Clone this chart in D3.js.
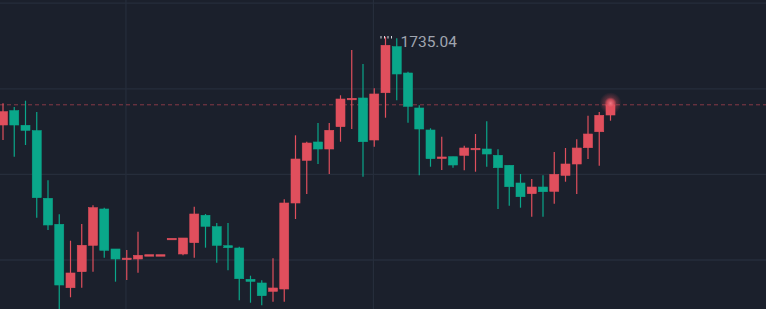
<!DOCTYPE html>
<html>
<head>
<meta charset="utf-8">
<script src="https://cdn.jsdelivr.net/npm/d3@7"></script>
<style>
	html, body { margin: 0; padding: 0; background: #1b202c; overflow: hidden; }
	#chart { width: 766px; height: 309px; }
</style>
</head>
<body>
<div id="chart"></div>
<script>
// trading days (categories)
let dates = [
	"2023-10-17","2023-10-18","2023-10-19","2023-10-20","2023-10-23","2023-10-24","2023-10-25","2023-10-26","2023-10-27","2023-10-30","2023-10-31",
	"2023-11-01","2023-11-02","2023-11-03","2023-11-06","2023-11-07","2023-11-08","2023-11-09","2023-11-10","2023-11-13","2023-11-14","2023-11-15",
	"2023-11-16","2023-11-17","2023-11-20","2023-11-21","2023-11-22","2023-11-23","2023-11-24","2023-11-27","2023-11-28","2023-11-29","2023-11-30",
	"2023-12-01","2023-12-04","2023-12-05","2023-12-06","2023-12-07","2023-12-08","2023-12-11","2023-12-12","2023-12-13","2023-12-14","2023-12-15",
	"2023-12-18","2023-12-19","2023-12-20","2023-12-21","2023-12-22","2023-12-25","2023-12-26","2023-12-27","2023-12-28","2023-12-29","2024-01-01"
];

let open = [
	1709.28,1713.46,1709.19,1707.62,1687.87,1680.28,1661.76,1666.44,1674.15,1684.75,1673.07,
	1670.30,1670.15,1671.40,1671.40,1676.19,1671.61,1674.91,1682.91,1679.58,1674.03,1673.36,
	1664.22,1663.14,1660.71,1661.38,1686.50,1698.97,1704.32,1702.27,1708.79,1717.00,1717.17,
	1704.90,1718.71,1732.15,1724.47,1714.25,1707.82,1699.90,1700.02,1700.43,1702.40,1702.27,
	1700.43,1697.51,1692.34,1689.22,1691.17,1689.92,1694.59,1697.89,1702.65,1707.32,1712.20
];
let high = [
	1715.62,1714.54,1716.38,1713.08,1693.13,1683.20,1675.49,1680.37,1685.83,1685.13,1673.07,
	1672.77,1678.12,1671.40,1671.40,1676.19,1676.28,1685.42,1683.29,1680.66,1680.66,1673.74,
	1665.27,1663.93,1670.35,1687.58,1706.27,1704.40,1709.87,1709.87,1717.96,1731.19,1727.10,
	1720.00,1735.04,1734.60,1724.85,1715.04,1708.32,1705.86,1700.02,1703.24,1706.65,1710.36,
	1702.18,1697.51,1694.97,1693.51,1694.59,1701.40,1702.56,1705.11,1712.00,1713.08,1715.18
];
let low = [
	1704.90,1700.02,1703.44,1682.21,1678.62,1654.67,1658.96,1661.76,1666.44,1670.53,1663.52,
	1664.01,1666.14,1671.40,1671.40,1676.19,1671.23,1670.53,1673.45,1669.07,1666.85,1658.08,
	1657.38,1656.62,1657.68,1657.68,1681.83,1689.13,1697.89,1694.97,1704.40,1708.11,1694.18,
	1702.94,1711.41,1716.50,1709.95,1694.59,1697.10,1696.14,1696.81,1696.05,1695.64,1697.10,
	1684.75,1685.71,1685.13,1682.50,1682.50,1686.30,1692.72,1689.13,1699.35,1697.39,1710.54
];
let close = [
	1713.17,1709.28,1707.73,1688.05,1680.08,1662.55,1666.06,1674.15,1685.13,1672.69,1670.15,
	1670.40,1671.23,1671.40,1671.40,1676.19,1676.28,1683.29,1679.70,1674.15,1673.45,1664.39,
	1663.63,1659.43,1661.68,1686.50,1699.35,1704.02,1702.27,1707.73,1716.87,1717.08,1704.40,
	1718.34,1732.56,1724.18,1714.74,1708.11,1699.44,1699.94,1697.60,1702.56,1702.48,1700.81,
	1696.81,1691.26,1688.34,1691.17,1689.80,1694.88,1697.89,1702.56,1706.65,1712.11,1715.18
];

let priceTicks = [1670, 1695, 1720, 1745];
let dateTicks = ["2023-11-01", "2023-12-01"];

var w = 766,
	h = 309;

var upColor = "#e04f5d",
	downColor = "#0aa78a",
	gridColor = "#262d3b";

var svg = d3.select("#chart")
			.append("svg")
			.attr("width", w)
			.attr("height", h)
			.style("display", "block");

svg.append("rect")
   .attr("width", w)
   .attr("height", h)
   .attr("fill", "#1b202c");

let data = dates.map((d, i) => ({date: d, o: open[i], h: high[i], l: low[i], c: close[i]}));

let xScale = d3.scaleBand()
			   .domain(dates)
			   .range([-2.625, -2.625 + dates.length * 11.25])
			   .paddingInner(0.2)
			   .paddingOuter(0.1);

let yScale = d3.scaleLinear()
			   .domain([1670, 1745])
			   .range([259.5, 2.7]);

let cx = (d) => xScale(d) + xScale.bandwidth() / 2;

// grid
let yGrid = d3.axisRight(yScale)
			  .tickValues(priceTicks)
			  .tickSize(w)
			  .tickFormat("");

svg.append("g")
   .attr("class", "grid")
   .call(yGrid)
   .call(g => g.select(".domain").remove())
   .call(g => g.selectAll("line").attr("stroke", gridColor).attr("stroke-width", 1.3));

let xGrid = d3.axisBottom(xScale)
			  .tickValues(dateTicks)
			  .tickSize(h)
			  .tickFormat("");

svg.append("g")
   .attr("class", "grid")
   .attr("transform", "translate(-0.8,0)")
   .call(xGrid)
   .call(g => g.select(".domain").remove())
   .call(g => g.selectAll("line").attr("stroke", gridColor).attr("stroke-width", 1.2));

// last price line
let last = data[data.length - 1];

svg.append("line")
   .attr("x1", 0)
   .attr("x2", w)
   .attr("y1", yScale(last.c))
   .attr("y2", yScale(last.c))
   .attr("stroke", upColor)
   .attr("stroke-opacity", 0.55)
   .attr("stroke-dasharray", "4,3");

// candles
let candles = svg.append("g")
				 .selectAll("g")
				 .data(data)
				 .enter()
				 .append("g")
				 .attr("fill", (d) => d.c >= d.o ? upColor : downColor)
				 .attr("stroke", (d) => d.c >= d.o ? upColor : downColor);

candles.append("line")
	   .attr("x1", (d) => cx(d.date))
	   .attr("x2", (d) => cx(d.date))
	   .attr("y1", (d) => yScale(d.h))
	   .attr("y2", (d) => yScale(d.l))
	   .attr("stroke-width", 1.2);

candles.append("rect")
	   .attr("x", (d) => xScale(d.date))
	   .attr("width", xScale.bandwidth())
	   .attr("y", (d) => yScale(Math.max(d.o, d.c)))
	   .attr("height", (d) => Math.max(1.5, Math.abs(yScale(d.o) - yScale(d.c))))
	   .attr("stroke-width", 0.6);

// highest point label
let peak = data.reduce((a, b) => b.h > a.h ? b : a);
let peakX = cx(peak.date),
	peakY = yScale(peak.h);

svg.append("line")
   .attr("x1", peakX - 5)
   .attr("x2", peakX + 9)
   .attr("y1", peakY + 0.5)
   .attr("y2", peakY + 0.5)
   .attr("stroke", "#d8dbe2")
   .attr("stroke-width", 2.5)
   .attr("stroke-dasharray", "1,2.5");

svg.append("text")
   .attr("x", peakX + 15)
   .attr("y", peakY + 10.5)
   .attr("fill", "#a0a5b0")
   .attr("font-family", "Roboto, 'Liberation Sans', sans-serif")
   .attr("font-size", "15.5px")
   .text(peak.h.toFixed(2));

// glow on the latest candle
let defs = svg.append("defs");
let grad = defs.append("radialGradient").attr("id", "glow");
grad.append("stop").attr("offset", "0%").attr("stop-color", "#f27884").attr("stop-opacity", 1);
grad.append("stop").attr("offset", "35%").attr("stop-color", "#e04f5d").attr("stop-opacity", 0.85);
grad.append("stop").attr("offset", "55%").attr("stop-color", "#e04f5d").attr("stop-opacity", 0.3);
grad.append("stop").attr("offset", "100%").attr("stop-color", "#e04f5d").attr("stop-opacity", 0);

svg.append("circle")
   .attr("cx", cx(last.date))
   .attr("cy", yScale(last.c) - 1.5)
   .attr("r", 11)
   .attr("fill", "url(#glow)");
</script>
</body>
</html>
